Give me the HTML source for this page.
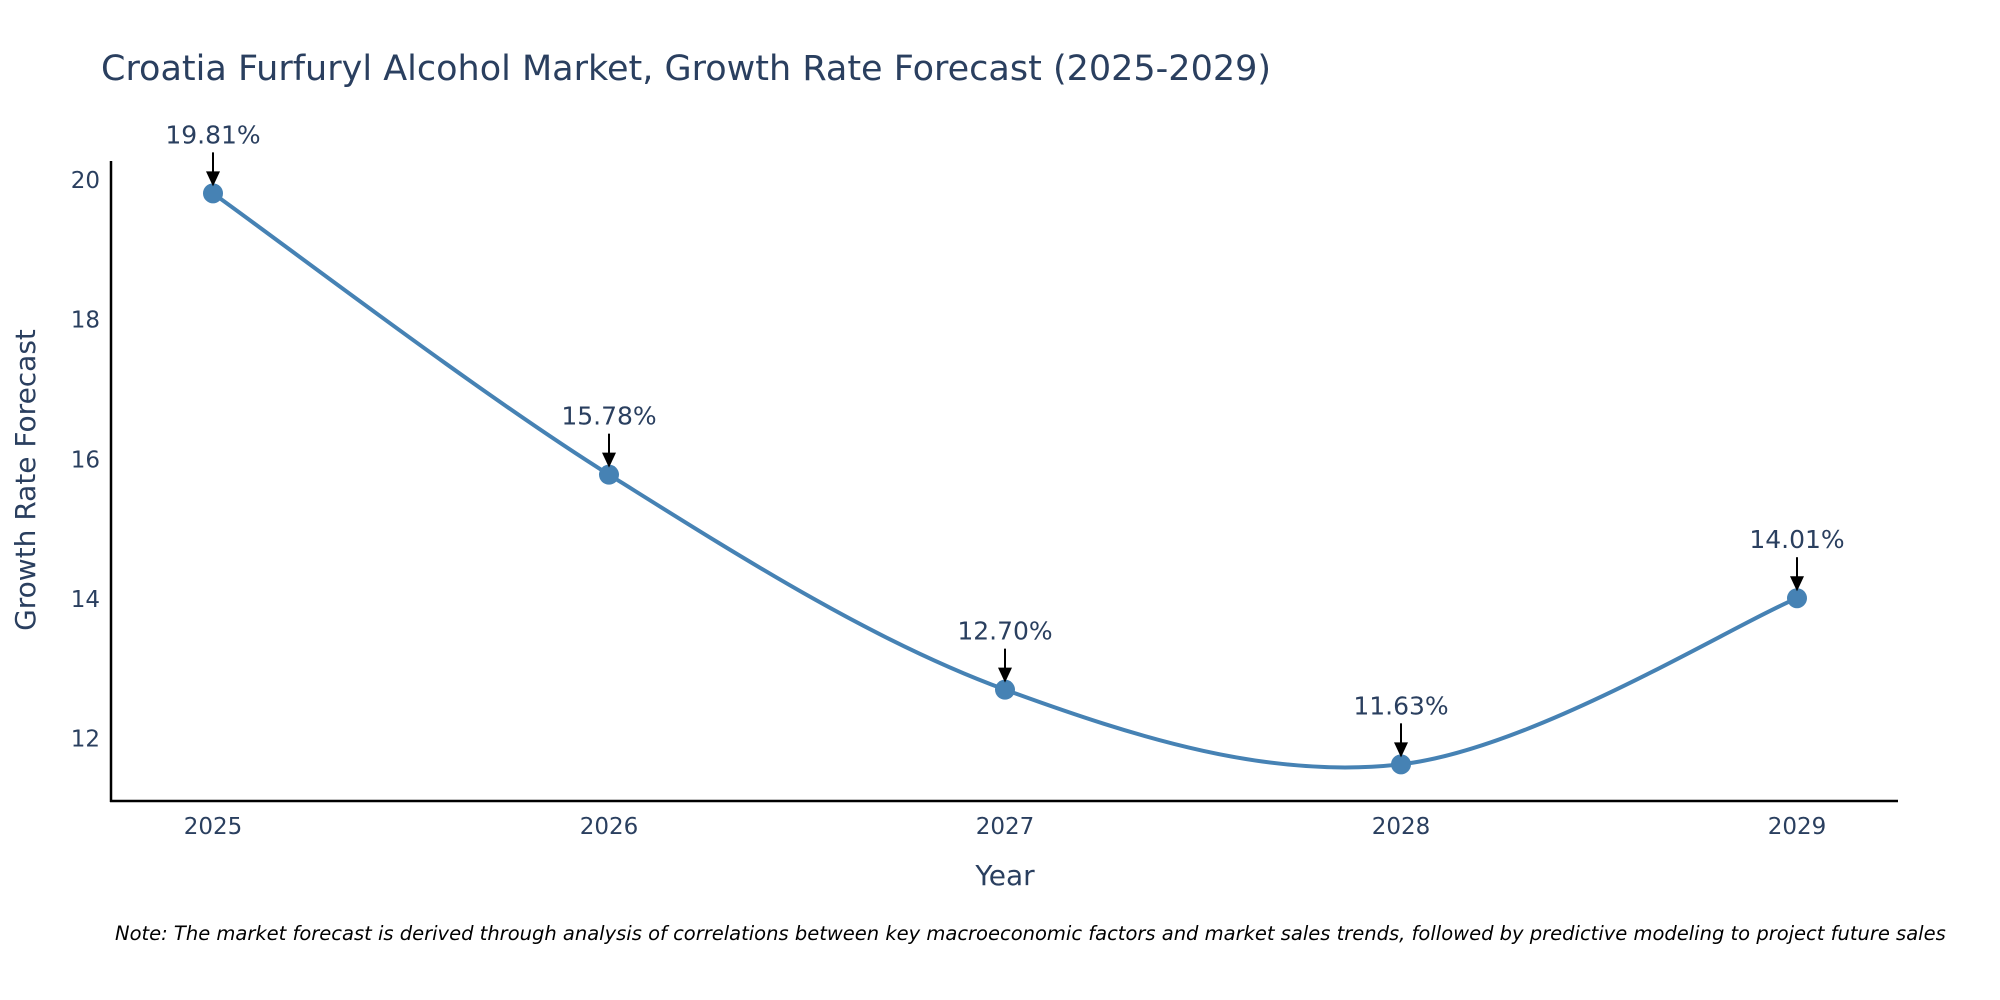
<!DOCTYPE html>
<html><head><meta charset="utf-8">
<style>
html,body{margin:0;padding:0;background:#fff;}
svg{display:block;font-family:"DejaVu Sans","Liberation Sans",sans-serif;}
</style></head>
<body>
<svg id="chart" width="2000" height="1000" viewBox="0 0 2000 1000">
<text x="101" y="80" font-size="35" fill="#2a3f5f">Croatia Furfuryl Alcohol Market, Growth Rate Forecast (2025-2029)</text>
<g id="yticks"></g>
<g id="xticks"></g>
<line x1="111" y1="161" x2="111" y2="802" stroke="#000" stroke-width="2.5"/>
<line x1="110" y1="801" x2="1898" y2="801" stroke="#000" stroke-width="2.5"/>
<text transform="translate(35,480) rotate(-90)" text-anchor="middle" font-size="28" fill="#2a3f5f">Growth Rate Forecast</text>
<text x="1005" y="885" text-anchor="middle" font-size="28" fill="#2a3f5f">Year</text>
<g id="series"></g>
<g id="annots"></g>
<text x="115" y="940" font-size="19.5" font-style="italic" fill="#000">Note: The market forecast is derived through analysis of correlations between key macroeconomic factors and market sales trends, followed by predictive modeling to project future sales</text>
</svg>
<script>
const years = [2025, 2026, 2027, 2028, 2029];
const growth = [19.81, 15.78, 12.70, 11.63, 14.01];
const labels = ["19.81%", "15.78%", "12.70%", "11.63%", "14.01%"];
const yTicks = [12, 14, 16, 18, 20];

const NS = "http://www.w3.org/2000/svg";
function xS(v){ return 213 + (v - 2025) * 396; }
function yS(v){ return 738.5 - (v - 12) * 69.8; }
function mk(tag, attrs, parent){
  const e = document.createElementNS(NS, tag);
  for (const k in attrs) e.setAttribute(k, attrs[k]);
  parent.appendChild(e); return e;
}
const yt = document.getElementById('yticks');
yTicks.forEach(t => {
  const e = mk('text', {x: 100, y: yS(t) + 8, 'text-anchor': 'end', 'font-size': 23, fill: '#2a3f5f'}, yt);
  
  
  e.textContent = t;
});
const xt = document.getElementById('xticks');
years.forEach(y => {
  const e = mk('text', {x: xS(y), y: 834, 'text-anchor': 'middle', 'font-size': 23, fill: '#2a3f5f'}, xt);
  
  
  e.textContent = y;
});
const pts = years.map((y, i) => [xS(y), yS(growth[i])]);
let d = `M${pts[0][0]},${pts[0][1]}`;
for (let i = 0; i < pts.length - 1; i++) {
  const p0 = pts[i - 1] || pts[i], p1 = pts[i], p2 = pts[i + 1], p3 = pts[i + 2] || pts[i + 1];
  const t = 1 / 6;
  d += ` C${p1[0] + (p2[0] - p0[0]) * t},${p1[1] + (p2[1] - p0[1]) * t} ${p2[0] - (p3[0] - p1[0]) * t},${p2[1] - (p3[1] - p1[1]) * t} ${p2[0]},${p2[1]}`;
}
const s = document.getElementById('series');
const line = mk('path', {d: d, fill: 'none', stroke: '#4682b4', 'stroke-width': 4}, s);


pts.forEach(p => {
  const c = mk('circle', {cx: p[0], cy: p[1], r: 10, fill: '#4682b4'}, s);
  
  
});
const a = document.getElementById('annots');
pts.forEach((p, i) => {
  const l = mk('line', {x1: p[0], y1: p[1] - 41, x2: p[0], y2: p[1] - 20, stroke: '#000', 'stroke-width': 2}, a);
  
  
  const h = mk('polygon', {points: `${p[0]-7},${p[1]-22} ${p[0]+7},${p[1]-22} ${p[0]},${p[1]-7}`, fill: '#000'}, a);
  
  
  const t = mk('text', {x: p[0], y: p[1] - 50, 'text-anchor': 'middle', 'font-size': 25, fill: '#2a3f5f'}, a);
  
  
  t.textContent = labels[i];
});
</script>
</body></html>
